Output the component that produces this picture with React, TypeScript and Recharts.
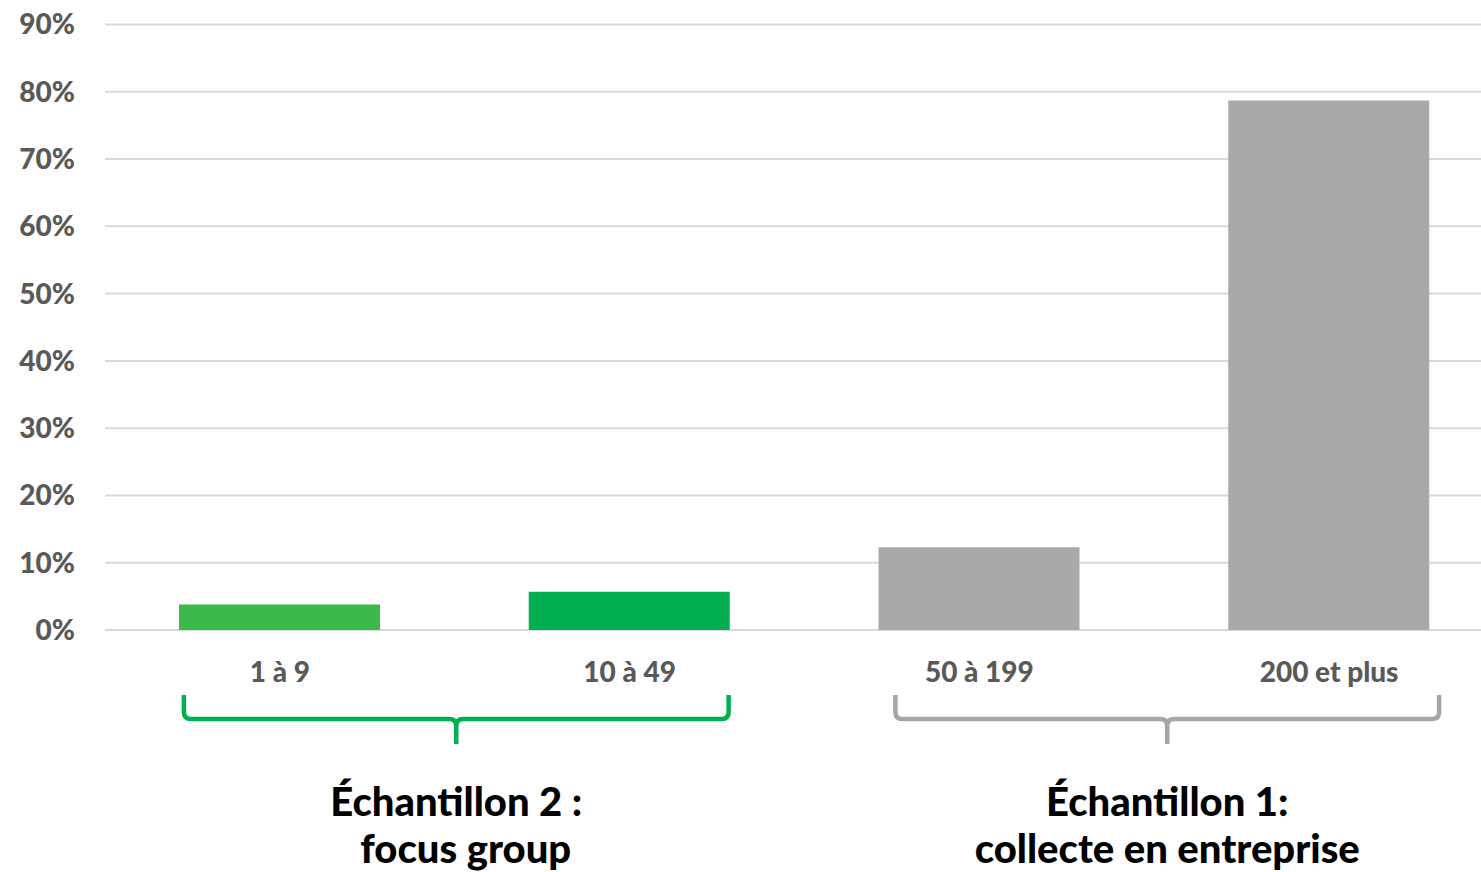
import { BarChart, Bar, Cell, CartesianGrid, XAxis, YAxis } from 'recharts';

const categories = ['1 à 9', '10 à 49', '50 à 199', '200 et plus'];
const shares = [3.8, 5.7, 12.3, 78.7];
const barColors = ['#3cb94b', '#00b050', '#a9a9a9', '#a9a9a9'];
const yTicks = [0, 10, 20, 30, 40, 50, 60, 70, 80, 90];

const groupStarts = [0, 2];
const groupLabels = [
  ['Échantillon 2 :', '  focus group'],
  ['Échantillon 1:', 'collecte en entreprise'],
];
const groupColors = ['#00b050', '#a6a6a6'];

const data = categories.map((name, i) => ({ name, value: shares[i] }));

// brace extents relative to the first / last bar centre of each group
const braceReach = [
  [96, 99],
  [84, 110],
];

function bracePath(x1: number, x2: number, xm: number, yTop: number, yLine: number, yTip: number) {
  const r = 7;
  return [
    `M ${x1} ${yTop}`,
    `L ${x1} ${yLine - r}`,
    `Q ${x1} ${yLine} ${x1 + r} ${yLine}`,
    `L ${xm - r} ${yLine}`,
    `Q ${xm} ${yLine} ${xm} ${yLine + r}`,
    `L ${xm} ${yTip}`,
    `M ${xm} ${yLine + r}`,
    `Q ${xm} ${yLine} ${xm + r} ${yLine}`,
    `L ${x2 - r} ${yLine}`,
    `Q ${x2} ${yLine} ${x2} ${yLine - r}`,
    `L ${x2} ${yTop}`,
  ].join(' ');
}

function CategoryTick(props: any) {
  const { x, y, payload } = props;
  const index = payload.index;
  const band = payload.offset ? payload.offset * 2 : 349.7;
  const g = groupStarts.indexOf(index);
  let brace = null;
  if (g >= 0) {
    const x1 = x - braceReach[g][0];
    const x2 = x + band + braceReach[g][1];
    const xm = (x1 + x2) / 2;
    brace = (
      <g>
        <path
          d={bracePath(x1, x2, xm, y + 65, y + 89, y + 114)}
          fill="none"
          stroke={groupColors[g]}
          strokeWidth={4.5}
        />
        <text
          x={xm}
          y={y + 186}
          textAnchor="middle"
          fill="#000"
          fontSize={40}
          fontWeight={900}
          fontFamily="Lato"
          style={{ whiteSpace: 'pre' }}
        >
          {groupLabels[g][0]}
        </text>
        <text
          x={xm}
          y={y + 233}
          textAnchor="middle"
          fill="#000"
          fontSize={40}
          fontWeight={900}
          fontFamily="Lato"
          style={{ whiteSpace: 'pre' }}
        >
          {groupLabels[g][1]}
        </text>
      </g>
    );
  }
  return (
    <g>
      <text
        x={x}
        y={y + 52}
        textAnchor="middle"
        fill="#595959"
        fontSize={28}
        fontWeight={900}
        fontFamily="Lato"
      >
        {payload.value}
      </text>
      {brace}
    </g>
  );
}

export default function App() {
  return (
    <div
      style={{
        position: 'absolute',
        left: 0,
        top: 0,
        width: 1481,
        height: 872,
        overflow: 'hidden',
        background: '#fff',
      }}
    >
      <BarChart
        width={1504}
        height={872}
        data={data}
        margin={{ top: 24.5, right: 0, bottom: 0, left: 0 }}
      >
        <CartesianGrid vertical={false} stroke="#d9d9d9" strokeWidth={2} />
        <XAxis
          dataKey="name"
          height={242}
          interval={0}
          tickLine={false}
          axisLine={false}
          tickSize={0}
          tickMargin={0}
          tick={<CategoryTick />}
        />
        <YAxis
          width={105}
          domain={[0, 90]}
          ticks={yTicks}
          tickLine={false}
          axisLine={false}
          tickSize={0}
          tickMargin={30}
          tickFormatter={(v) => `${v}%`}
          tick={{ fill: '#595959', fontSize: 28, fontWeight: 900, fontFamily: 'Lato' }}
        />
        <Bar dataKey="value" barSize={201} isAnimationActive={false}>
          {data.map((d, i) => (
            <Cell key={d.name} fill={barColors[i]} />
          ))}
        </Bar>
      </BarChart>
    </div>
  );
}
